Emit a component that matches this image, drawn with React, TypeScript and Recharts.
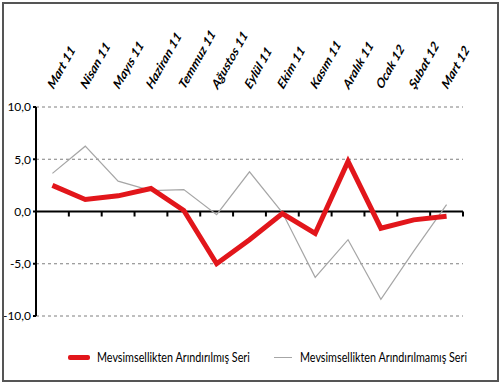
import { LineChart, Line, XAxis, YAxis, CartesianGrid, ReferenceLine } from 'recharts'

const months = [
  'Mart 11', 'Nisan 11', 'Mayıs 11', 'Haziran 11', 'Temmuz 11', 'Ağustos 11', 'Eylül 11',
  'Ekim 11', 'Kasım 11', 'Aralık 11', 'Ocak 12', 'Şubat 12', 'Mart 12',
]
const adjusted = [2.5, 1.15, 1.5, 2.2, 0.1, -5.0, -2.7, -0.2, -2.1, 4.8, -1.6, -0.8, -0.45]
const unadjusted = [3.65, 6.25, 2.9, 2.0, 2.1, -0.3, 3.8, -0.1, -6.3, -2.7, -8.4, -3.8, 0.65]
const yTicks = [-10, -5, 0, 5, 10]

const seriesNames = ['Mevsimsellikten Arındırılmış Seri', 'Mevsimsellikten Arındırılmamış Seri']

const data = months.map((m, i) => ({ month: m, adj: adjusted[i], raw: unadjusted[i] }))

const font = 'Lato, "Open Sans", sans-serif'
const RED = '#e2161b'
const GRAY = '#a6a6a6'

// labels look horizontally squeezed in the original, hence the scale
const TopTick = (props: any) => {
  const { x, y, payload } = props
  const tx = x + 1
  const ty = y - 9
  return (
    <g transform={`translate(${tx},${ty}) scale(0.8,1) rotate(-55)`}>
      <text x={0} y={0} textAnchor="start" fontSize={14} fontWeight="bold" fontStyle="italic" fontFamily={font} fill="#000">
        {payload.value}
      </text>
    </g>
  )
}

// zero line with tick marks between categories
const ZeroAxis = (props: any) => {
  const { x1, y1, x2 } = props
  const step = (x2 - x1) / months.length
  return (
    <g>
      <line x1={x1} y1={y1} x2={x2} y2={y1} stroke="#000" strokeWidth={2} />
      {months.map((_, i) => (
        <line key={i} x1={x1 + step * (i + 1)} y1={y1} x2={x1 + step * (i + 1)} y2={y1 + 5} stroke="#000" strokeWidth={2} />
      ))}
    </g>
  )
}

const legendText = {
  position: 'absolute' as const,
  top: 348,
  fontFamily: font,
  fontSize: 14,
  whiteSpace: 'nowrap' as const,
  transform: 'scaleX(0.77)',
  transformOrigin: '0 50%',
  color: '#000',
}

export default function App() {
  return (
    <div style={{ position: 'absolute', left: 0, top: 0, width: 500, height: 384, background: '#fff' }}>
      <LineChart width={500} height={384} data={data} margin={{ top: 0, right: 37, bottom: 68, left: 0 }}>
        <CartesianGrid horizontal vertical={false} stroke="#7f7f7f" strokeDasharray="3 3" />
        <XAxis
          dataKey="month"
          orientation="top"
          scale="band"
          height={107}
          axisLine={false}
          tickLine={false}
          interval={0}
          tick={<TopTick />}
        />
        <YAxis
          domain={[-10, 10]}
          ticks={yTicks}
          width={36}
          axisLine={{ stroke: '#000', strokeWidth: 2 }}
          tickLine={{ stroke: '#000', strokeWidth: 2 }}
          tickSize={3}
          tickFormatter={(v: number) => v.toFixed(1).replace('.', ',')}
          tick={{ fontSize: 12, fill: '#000', fontFamily: font }}
        />
        <ReferenceLine y={0} shape={<ZeroAxis />} />
        <Line dataKey="raw" stroke={GRAY} strokeWidth={1.2} dot={false} isAnimationActive={false} />
        <Line dataKey="adj" stroke={RED} strokeWidth={5} dot={false} isAnimationActive={false} strokeLinejoin="miter" />
      </LineChart>
      <span style={{ position: 'absolute', left: 68, top: 355, width: 22, height: 5, background: RED, borderRadius: 2 }} />
      <span style={{ ...legendText, left: 97 }}>{seriesNames[0]}</span>
      <span style={{ position: 'absolute', left: 274, top: 357, width: 18, height: 1, background: GRAY }} />
      <span style={{ ...legendText, left: 300 }}>{seriesNames[1]}</span>
      <div style={{ position: 'absolute', left: 2, top: 2, width: 493, height: 376, border: '2px solid #555', pointerEvents: 'none' }} />
    </div>
  )
}
